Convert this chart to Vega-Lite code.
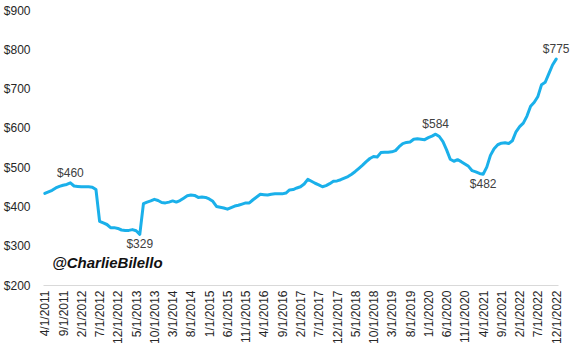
{
  "$schema": "https://vega.github.io/schema/vega-lite/v6.json",
  "width": 515,
  "height": 275,
  "autosize": "none",
  "padding": {"left": 43, "top": 10, "right": 14, "bottom": 67},
  "background": "white",
  "config": {"view": {"stroke": null}, "font": "Liberation Sans"},
  "datasets": {
    "series": [
      {"date":"4/1/2011","value":433},{"date":"5/1/2011","value":437},{"date":"6/1/2011","value":441},{"date":"7/1/2011","value":447},
      {"date":"8/1/2011","value":451},{"date":"9/1/2011","value":454},{"date":"10/1/2011","value":456},{"date":"11/1/2011","value":460},
      {"date":"12/1/2011","value":452},{"date":"1/1/2012","value":451},{"date":"2/1/2012","value":450},{"date":"3/1/2012","value":450},
      {"date":"4/1/2012","value":450},{"date":"5/1/2012","value":449},{"date":"6/1/2012","value":443},{"date":"7/1/2012","value":362},
      {"date":"8/1/2012","value":358},{"date":"9/1/2012","value":354},{"date":"10/1/2012","value":346},{"date":"11/1/2012","value":346},
      {"date":"12/1/2012","value":344},{"date":"1/1/2013","value":340},{"date":"2/1/2013","value":339},{"date":"3/1/2013","value":339},
      {"date":"4/1/2013","value":341},{"date":"5/1/2013","value":338},{"date":"6/1/2013","value":329},{"date":"7/1/2013","value":407},
      {"date":"8/1/2013","value":411},{"date":"9/1/2013","value":414},{"date":"10/1/2013","value":418},{"date":"11/1/2013","value":415},
      {"date":"12/1/2013","value":410},{"date":"1/1/2014","value":409},{"date":"2/1/2014","value":411},{"date":"3/1/2014","value":414},
      {"date":"4/1/2014","value":411},{"date":"5/1/2014","value":415},{"date":"6/1/2014","value":421},{"date":"7/1/2014","value":427},
      {"date":"8/1/2014","value":429},{"date":"9/1/2014","value":428},{"date":"10/1/2014","value":423},{"date":"11/1/2014","value":424},
      {"date":"12/1/2014","value":423},{"date":"1/1/2015","value":419},{"date":"2/1/2015","value":413},{"date":"3/1/2015","value":400},
      {"date":"4/1/2015","value":398},{"date":"5/1/2015","value":396},{"date":"6/1/2015","value":393},{"date":"7/1/2015","value":397},
      {"date":"8/1/2015","value":401},{"date":"9/1/2015","value":403},{"date":"10/1/2015","value":406},{"date":"11/1/2015","value":409},
      {"date":"12/1/2015","value":409},{"date":"1/1/2016","value":417},{"date":"2/1/2016","value":424},{"date":"3/1/2016","value":431},
      {"date":"4/1/2016","value":430},{"date":"5/1/2016","value":429},{"date":"6/1/2016","value":431},{"date":"7/1/2016","value":432},
      {"date":"8/1/2016","value":432},{"date":"9/1/2016","value":432},{"date":"10/1/2016","value":434},{"date":"11/1/2016","value":442},
      {"date":"12/1/2016","value":443},{"date":"1/1/2017","value":447},{"date":"2/1/2017","value":450},{"date":"3/1/2017","value":457},
      {"date":"4/1/2017","value":469},{"date":"5/1/2017","value":464},{"date":"6/1/2017","value":459},{"date":"7/1/2017","value":455},
      {"date":"8/1/2017","value":450},{"date":"9/1/2017","value":453},{"date":"10/1/2017","value":458},{"date":"11/1/2017","value":464},
      {"date":"12/1/2017","value":465},{"date":"1/1/2018","value":468},{"date":"2/1/2018","value":472},{"date":"3/1/2018","value":476},
      {"date":"4/1/2018","value":482},{"date":"5/1/2018","value":489},{"date":"6/1/2018","value":497},{"date":"7/1/2018","value":505},
      {"date":"8/1/2018","value":514},{"date":"9/1/2018","value":522},{"date":"10/1/2018","value":527},{"date":"11/1/2018","value":526},
      {"date":"12/1/2018","value":537},{"date":"1/1/2019","value":538},{"date":"2/1/2019","value":538},{"date":"3/1/2019","value":539},
      {"date":"4/1/2019","value":542},{"date":"5/1/2019","value":552},{"date":"6/1/2019","value":560},{"date":"7/1/2019","value":563},
      {"date":"8/1/2019","value":564},{"date":"9/1/2019","value":571},{"date":"10/1/2019","value":572},{"date":"11/1/2019","value":571},
      {"date":"12/1/2019","value":570},{"date":"1/1/2020","value":575},{"date":"2/1/2020","value":579},{"date":"3/1/2020","value":584},
      {"date":"4/1/2020","value":578},{"date":"5/1/2020","value":565},{"date":"6/1/2020","value":544},{"date":"7/1/2020","value":520},
      {"date":"8/1/2020","value":515},{"date":"9/1/2020","value":519},{"date":"10/1/2020","value":514},{"date":"11/1/2020","value":508},
      {"date":"12/1/2020","value":502},{"date":"1/1/2021","value":491},{"date":"2/1/2021","value":488},{"date":"3/1/2021","value":484},
      {"date":"4/1/2021","value":482},{"date":"5/1/2021","value":500},{"date":"6/1/2021","value":530},{"date":"7/1/2021","value":547},
      {"date":"8/1/2021","value":557},{"date":"9/1/2021","value":561},{"date":"10/1/2021","value":562},{"date":"11/1/2021","value":560},
      {"date":"12/1/2021","value":567},{"date":"1/1/2022","value":590},{"date":"2/1/2022","value":603},{"date":"3/1/2022","value":612},
      {"date":"4/1/2022","value":630},{"date":"5/1/2022","value":655},{"date":"6/1/2022","value":665},{"date":"7/1/2022","value":680},
      {"date":"8/1/2022","value":710},{"date":"9/1/2022","value":716},{"date":"10/1/2022","value":738},{"date":"11/1/2022","value":760},
      {"date":"12/1/2022","value":775}
    ],
    "watermark": [{"date":"6/1/2011","value":256,"text":"@CharlieBilello"}]
  },
  "encoding": {
    "x": {
      "field": "date", "type": "ordinal", "sort": null,
      "scale": {"type": "point", "padding": 0.5},
      "axis": {
        "title": null,
        "values": ["4/1/2011","9/1/2011","2/1/2012","7/1/2012","12/1/2012","5/1/2013","10/1/2013","3/1/2014","8/1/2014","1/1/2015","6/1/2015","11/1/2015","4/1/2016","9/1/2016","2/1/2017","7/1/2017","12/1/2017","5/1/2018","10/1/2018","3/1/2019","8/1/2019","1/1/2020","6/1/2020","11/1/2020","4/1/2021","9/1/2021","2/1/2022","7/1/2022","12/1/2022"],
        "labelAngle": -90,
        "labelFontSize": 12,
        "labelColor": "#262626",
        "labelPadding": 5,
        "ticks": false,
        "domainColor": "#d9d9d9",
        "domainWidth": 1,
        "grid": false
      }
    },
    "y": {
      "field": "value", "type": "quantitative",
      "scale": {"domain": [200, 900], "zero": false},
      "axis": {
        "title": null,
        "values": [200,300,400,500,600,700,800,900],
        "format": "$,.0f",
        "labelFontSize": 12,
        "labelColor": "#262626",
        "labelPadding": 13,
        "ticks": false,
        "domain": false,
        "grid": false
      }
    }
  },
  "layer": [
    {
      "data": {"name": "series"},
      "mark": {"type": "line", "color": "#1AB0EA", "strokeWidth": 3, "strokeJoin": "round", "strokeCap": "round"}
    },
    {
      "data": {"name": "series"},
      "transform": [{"filter": {"field": "date", "oneOf": ["11/1/2011","3/1/2020","12/1/2022"]}}],
      "mark": {"type": "text", "fontSize": 12, "color": "#404040", "baseline": "middle", "dy": -10},
      "encoding": {"text": {"field": "value", "type": "quantitative", "format": "$,.0f"}}
    },
    {
      "data": {"name": "series"},
      "transform": [{"filter": {"field": "date", "oneOf": ["6/1/2013","4/1/2021"]}}],
      "mark": {"type": "text", "fontSize": 12, "color": "#404040", "baseline": "middle", "dy": 10},
      "encoding": {"text": {"field": "value", "type": "quantitative", "format": "$,.0f"}}
    },
    {
      "data": {"name": "watermark"},
      "mark": {"type": "text", "fontSize": 15, "fontWeight": "bold", "fontStyle": "italic", "color": "#111111", "align": "left", "baseline": "middle"},
      "encoding": {"text": {"field": "text"}}
    }
  ]
}
